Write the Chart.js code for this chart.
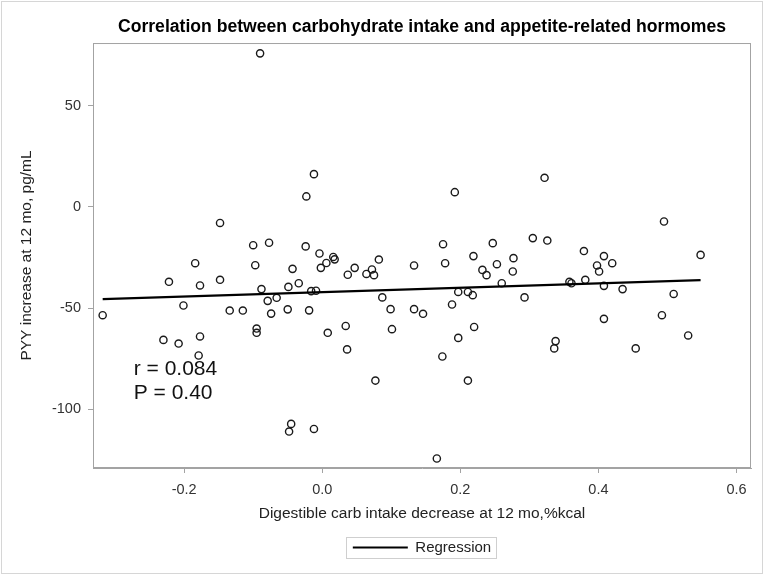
<!DOCTYPE html>
<html>
<head>
<meta charset="utf-8">
<script src="https://cdn.jsdelivr.net/npm/chart.js@4/dist/chart.umd.min.js"></script>
<style>
    html, body { margin: 0; padding: 0; background: #fff; }
    #wrap { width: 764px; height: 575px; }
</style>
</head>
<body>
<div id="wrap"><canvas id="chart" width="764" height="575"></canvas></div>
<script>
// Data
const carbDecrease = [
    -0.318, -0.230, -0.222, -0.208, -0.201, -0.184, -0.177, -0.177, -0.179, -0.148,
    -0.148, -0.134, -0.115, -0.100, -0.097, -0.095, -0.095, -0.090, -0.088, -0.077,
    -0.079, -0.074, -0.066, -0.050, -0.049, -0.043, -0.045, -0.048, -0.034, -0.024,
    -0.023, -0.019, -0.016, -0.012, -0.012, -0.009, -0.004, -0.002, 0.006, 0.008,
    0.016, 0.018, 0.034, 0.036, 0.037, 0.047, 0.064, 0.072, 0.075, 0.077,
    0.082, 0.087, 0.099, 0.101, 0.133, 0.133, 0.146, 0.175, 0.174, 0.178,
    0.188, 0.192, 0.197, 0.197, 0.166, 0.211, 0.211, 0.218, 0.219, 0.220,
    0.232, 0.238, 0.247, 0.253, 0.260, 0.277, 0.276, 0.293, 0.305, 0.322,
    0.326, 0.338, 0.336, 0.358, 0.361, 0.379, 0.381, 0.398, 0.401, 0.408,
    0.408, 0.408, 0.420, 0.435, 0.454, 0.495, 0.492, 0.509, 0.530, 0.548
];
const pyyIncrease = [
    -53.5, -65.7, -37.0, -67.5, -48.7, -27.8, -38.8, -64.0, -73.4, -7.9,
    -36.0, -51.2, -51.2, -18.9, -28.8, -60.1, -62.2, 75.9, -40.6, -17.7,
    -46.4, -52.7, -44.9, -50.6, -39.5, -30.6, -107.2, -111.0, -37.7, -19.5,
    5.2, -51.1, -41.6, 16.2, -109.7, -41.4, -23.0, -30.1, -27.7, -62.2,
    -24.7, -25.9, -58.8, -70.4, -33.5, -30.1, -33.1, -30.9, -33.7, -85.8,
    -26.0, -44.7, -50.5, -60.4, -28.9, -50.5, -52.8, -18.4, -73.9, -27.8,
    -48.2, 7.3, -42.0, -64.7, -124.3, -42.0, -85.8, -43.6, -24.3, -59.3,
    -31.1, -33.7, -17.9, -28.3, -37.7, -25.3, -31.9, -44.7, -15.4, 14.4,
    -16.6, -66.3, -69.9, -37.0, -37.7, -21.8, -36.0, -28.9, -31.9, -24.3,
    -39.0, -55.3, -27.8, -40.6, -69.9, -7.2, -53.5, -43.0, -63.5, -23.7
];

// Regression line end points
const regressionX = [-0.318, 0.548];
const regressionY = [-45.6, -36.2];

const xTicks = [-0.2, 0.0, 0.2, 0.4, 0.6];
const yTicks = [-100, -50, 0, 50];
const xRange = [-0.332, 0.621];
const yRange = [-129, 81];

const statLines = ['r = 0.084', 'P = 0.40'];
const statX = -0.273;
const statY = [-80.2, -92.1];

const FONT = "'Liberation Sans', Arial, Helvetica, sans-serif";
const AXIS_GRAY = '#a3a3a3';

// frame around plot, outer border, legend box and r/P text
const decorPlugin = {
    id: 'decor',
    afterDraw(chart) {
        const ctx = chart.ctx;
        const area = chart.chartArea;
        ctx.save();
        ctx.strokeStyle = '#d6d6d6';
        ctx.lineWidth = 1;
        ctx.strokeRect(1.5, 1.5, chart.width - 3, chart.height - 3);

        ctx.strokeStyle = AXIS_GRAY;
        ctx.strokeRect(area.left + 0.5, area.top + 0.5, area.right - area.left - 1, area.bottom - area.top - 1);

        const hb = chart.legend.legendHitBoxes[0];
        if (hb) {
            const cy = hb.top + hb.height / 2;
            ctx.strokeStyle = '#cfcfcf';
            ctx.strokeRect(Math.round(hb.left - 7) + 0.5, Math.round(cy - 10.5) + 0.5, Math.round(hb.width + 12), 21);
        }

        const xs = chart.scales.x, ys = chart.scales.y;
        ctx.fillStyle = '#111';
        ctx.font = '21px ' + FONT;
        ctx.textAlign = 'left';
        ctx.textBaseline = 'middle';
        statLines.forEach((t, i) => {
            ctx.fillText(t, xs.getPixelForValue(statX), ys.getPixelForValue(statY[i]));
        });
        ctx.restore();
    }
};

const ctx = document.getElementById('chart').getContext('2d');
new Chart(ctx, {
    data: {
        datasets: [
            {
                type: 'line',
                label: 'Regression',
                data: regressionX.map((x, i) => ({ x: x, y: regressionY[i] })),
                borderColor: '#000',
                borderWidth: 2.2,
                pointRadius: 0,
                pointStyle: 'line',
                pointBorderColor: '#000',
                pointBorderWidth: 2.2,
                fill: false
            },
            {
                type: 'scatter',
                label: 'PYY',
                data: carbDecrease.map((x, i) => ({ x: x, y: pyyIncrease[i] })),
                pointRadius: 3.6,
                pointBorderWidth: 1.4,
                borderColor: '#1a1a1a',
                backgroundColor: 'rgba(255,255,255,0)'
            }
        ]
    },
    options: {
        responsive: false,
        animation: false,
        events: [],
        layout: { padding: { left: 0, right: 13, top: 0, bottom: 10 } },
        plugins: {
            title: {
                display: true,
                fullSize: false,
                text: 'Correlation between carbohydrate intake and appetite-related hormomes',
                color: '#000',
                font: { family: FONT, size: 17.6, weight: 'bold' },
                padding: { top: 16.5, bottom: 5.4 }
            },
            legend: {
                display: true,
                position: 'bottom',
                fullSize: false,
                labels: {
                    usePointStyle: true,
                    pointStyleWidth: 55,
                    padding: 8,
                    color: '#222',
                    font: { family: FONT, size: 15 },
                    filter: item => item.text === 'Regression'
                }
            },
            tooltip: { enabled: false }
        },
        scales: {
            x: {
                type: 'linear',
                min: xRange[0],
                max: xRange[1],
                afterBuildTicks: s => { s.ticks = xTicks.map(v => ({ value: v })); },
                afterFit: s => { s.height = 64; },
                ticks: {
                    color: '#333',
                    padding: 8,
                    font: { family: FONT, size: 14.5 },
                    callback: v => v.toFixed(1)
                },
                grid: { drawOnChartArea: false, drawTicks: true, tickLength: 5, color: AXIS_GRAY },
                border: { display: true, color: AXIS_GRAY },
                title: {
                    display: true,
                    text: 'Digestible carb intake decrease at 12 mo,%kcal',
                    color: '#222',
                    font: { family: FONT, size: 15.5 },
                    padding: { top: 0, bottom: 9 }
                }
            },
            y: {
                type: 'linear',
                min: yRange[0],
                max: yRange[1],
                afterBuildTicks: s => { s.ticks = yTicks.map(v => ({ value: v })); },
                afterFit: s => { s.width = 93; },
                ticks: {
                    color: '#333',
                    padding: 7,
                    font: { family: FONT, size: 14.5 },
                    callback: v => String(v)
                },
                grid: { drawOnChartArea: false, drawTicks: true, tickLength: 5, color: AXIS_GRAY },
                border: { display: true, color: AXIS_GRAY },
                title: {
                    display: true,
                    text: 'PYY increase at 12 mo, pg/mL',
                    color: '#222',
                    font: { family: FONT, size: 15.5 },
                    padding: { top: 17, bottom: 0 }
                }
            }
        }
    },
    plugins: [decorPlugin]
});
</script>
</body>
</html>
